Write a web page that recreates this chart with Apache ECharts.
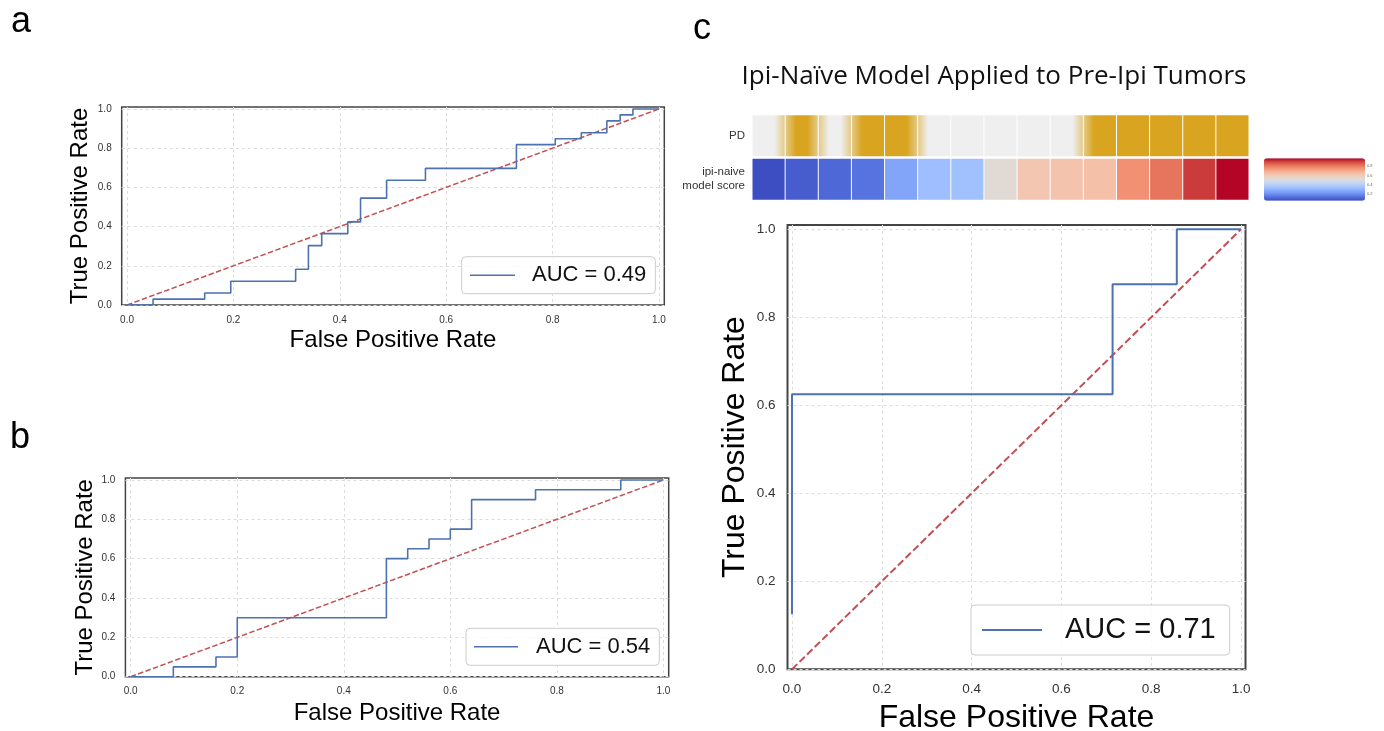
<!DOCTYPE html>
<html><head><meta charset="utf-8">
<script src="https://cdn.jsdelivr.net/npm/echarts@6/dist/echarts.min.js"></script>
<style>html,body{margin:0;padding:0;background:#fff}#c{width:1384px;height:731px}</style>
</head><body><div id="c"></div><script>
// ---------------- data ----------------
const tickValues = [0, 0.2, 0.4, 0.6, 0.8, 1.0];
const colorbarTicks = [0.2, 0.4, 0.6, 0.8];

const rocA_fpr = [0, 0.049, 0.146, 0.195, 0.317, 0.341, 0.366, 0.415, 0.439, 0.488, 0.561, 0.732, 0.805, 0.854, 0.902, 0.927, 0.951, 1.0];
const rocA_tpr = [0, 0.030, 0.061, 0.121, 0.182, 0.303, 0.364, 0.424, 0.545, 0.636, 0.697, 0.818, 0.848, 0.879, 0.939, 0.970, 1.0, 1.0];

const rocB_fpr = [0, 0.08, 0.16, 0.20, 0.48, 0.52, 0.56, 0.60, 0.64, 0.76, 0.92, 1.0];
const rocB_tpr = [0, 0.05, 0.10, 0.30, 0.60, 0.65, 0.70, 0.75, 0.90, 0.95, 1.0, 1.0];

const rocC_fpr = [0, 0, 0.714, 0.857, 1.0];
const rocC_tpr = [0.125, 0.625, 0.875, 1.0, 1.0];

const chanceX = [0, 1];
const chanceY = [0, 1];

const aucLabels = ['AUC = 0.49', 'AUC = 0.54', 'AUC = 0.71'];

const heatmapColumns = ['1','2','3','4','5','6','7','8','9','10','11','12','13','14','15'];
const heatmapRows = ['ipi-naive\nmodel score', 'PD'];
const pdStatus = [0, 1, 0, 1, 1, 0, 0, 0, 0, 0, 1, 1, 1, 1, 1];
const modelScores = [0.05, 0.083, 0.106, 0.13, 0.25, 0.325, 0.334, 0.53, 0.618, 0.627, 0.637, 0.762, 0.818, 0.911, 0.975];
const scoreRange = [0.046, 0.976];

const titleText = 'Ipi-Naïve Model Applied to Pre-Ipi Tumors';
const axisTitleX = 'False Positive Rate';
const axisTitleY = 'True Positive Rate';

// ---------------- styles ----------------
const BLUE = '#4c72b0', RED = '#c44e52';
const GOLD = '#d9a420', LIGHT = '#efefef';
const FONT = '"Liberation Sans", Arial, sans-serif';
const coolwarm = ['#3b4cc0','#5977e3','#7b9ff9','#9ebeff','#c0d4f5','#dddcdc','#f2cbb7','#f7ac8e','#ee8468','#d65244','#b40426'];

const zip = (xs, ys) => xs.map((x, i) => [x, ys[i]]);

function hexToRgb(h){h=h.replace('#','');return [parseInt(h.substr(0,2),16),parseInt(h.substr(2,2),16),parseInt(h.substr(4,2),16)];}
function mix(a,b){const A=hexToRgb(a),B=hexToRgb(b);return 'rgb('+A.map((v,i)=>Math.round((v+B[i])/2)).join(',')+')';}

function rocAxes(gi, o) {
  const x = {
    gridIndex: gi, type: 'value', min: -0.01, max: 1.01,
    axisLine: {show: false},
    axisTick: {show: false, customValues: tickValues},
    splitLine: {show: true, lineStyle: {color: '#dcdcdc', type: [3, 3], width: 1}},
    axisLabel: {customValues: tickValues, formatter: v => v.toFixed(1), fontSize: o.tick, color: '#333', margin: o.xm, fontFamily: FONT},
    name: axisTitleX, nameLocation: 'middle', nameGap: o.xg,
    nameTextStyle: {fontSize: o.title, color: '#000', fontFamily: FONT}
  };
  const y = {
    gridIndex: gi, type: 'value', min: 0, max: 1.01,
    axisLine: {show: false},
    axisTick: {show: false, customValues: tickValues},
    splitLine: {show: true, lineStyle: {color: '#dcdcdc', type: [3, 3], width: 1}},
    axisLabel: {customValues: tickValues, formatter: v => v.toFixed(1), fontSize: o.tick, color: '#333', margin: o.ym, fontFamily: FONT},
    name: axisTitleY, nameLocation: 'middle', nameGap: o.yg,
    nameTextStyle: {fontSize: o.title, color: '#000', fontFamily: FONT}
  };
  return [x, y];
}

const axA = rocAxes(0, {tick: 10, xm: 10, ym: 10, title: 24, xg: 23, yg: 29});
const axB = rocAxes(1, {tick: 10, xm: 10, ym: 10, title: 24, xg: 25, yg: 27});
const axC = rocAxes(2, {tick: 13.5, xm: 13, ym: 12, title: 32, xg: 33, yg: 36});

function legendFor(name, o) {
  return {
    data: [{name: name, icon: 'rect'}], left: o.left, top: o.top, orient: 'horizontal',
    padding: o.pad, itemWidth: o.iw, itemHeight: o.ih,
    borderColor: '#cccccc', borderWidth: 1, borderRadius: 4,
    backgroundColor: 'rgba(255,255,255,0.85)',
    itemStyle: {color: BLUE, borderWidth: 0},
    textStyle: {fontSize: o.fs, color: '#111', fontFamily: FONT, lineHeight: o.lh, padding: [0, 0, 0, o.gap]},
    selectedMode: false
  };
}

function rocSeries(name, gi, xs, ys, w) {
  return {
    name: name, type: 'line', xAxisIndex: gi, yAxisIndex: gi,
    data: zip(xs, ys), step: 'end', symbol: 'none', showSymbol: false, silent: true,
    lineStyle: {color: BLUE, width: w}, itemStyle: {color: BLUE}, z: 3
  };
}
function chanceSeries(gi, w, dash) {
  return {
    type: 'line', xAxisIndex: gi, yAxisIndex: gi, data: zip(chanceX, chanceY),
    symbol: 'none', silent: true, lineStyle: {color: RED, width: w, type: dash}, z: 2
  };
}

const pdData = pdStatus.map((v, i) => [i, 1, v]);
const scoreData = modelScores.map((v, i) => [i, 0, v]);

function renderPD(params, api) {
  const i = params.dataIndex;
  const c = api.coord([api.value(0), api.value(1)]);
  const s = api.size([1, 1]);
  const own = pdStatus[i] ? GOLD : LIGHT;
  const lc = (i > 0 && pdStatus[i-1] !== pdStatus[i]) ? mix(own, pdStatus[i-1] ? GOLD : LIGHT) : own;
  const rc = (i < pdStatus.length - 1 && pdStatus[i+1] !== pdStatus[i]) ? mix(own, pdStatus[i+1] ? GOLD : LIGHT) : own;
  return {
    type: 'rect',
    shape: {x: c[0] - s[0]/2 + 0.5, y: c[1] - s[1]/2 + 0.7, width: s[0] - 1, height: s[1] - 1.9},
    style: {fill: new echarts.graphic.LinearGradient(0, 0, 1, 0, [
      {offset: 0, color: lc}, {offset: 0.32, color: own}, {offset: 0.68, color: own}, {offset: 1, color: rc}
    ])}
  };
}
function renderScore(params, api) {
  const c = api.coord([api.value(0), api.value(1)]);
  const s = api.size([1, 1]);
  return {
    type: 'rect',
    shape: {x: c[0] - s[0]/2 + 0.5, y: c[1] - s[1]/2 + 1.2, width: s[0] - 1, height: s[1] - 1.9},
    style: {fill: api.visual('color')}
  };
}

const gridBase = {outerBoundsMode: 'none', containLabel: false};
const option = {
  backgroundColor: '#fff',
  animation: false,
  grid: [
    Object.assign({left: 121.7, top: 107, width: 542.6, height: 198, show: true, borderColor: '#444', borderWidth: 1.5, backgroundColor: 'transparent'}, gridBase),
    Object.assign({left: 125.4, top: 478, width: 543.3, height: 198.7, show: true, borderColor: '#444', borderWidth: 1.5, backgroundColor: 'transparent'}, gridBase),
    Object.assign({left: 787.5, top: 224.9, width: 458, height: 444.4, show: true, borderColor: '#444', borderWidth: 2, backgroundColor: 'transparent'}, gridBase),
    Object.assign({left: 752, top: 114.5, width: 497, height: 86}, gridBase),
    Object.assign({left: 1264, top: 158.3, width: 101, height: 42.4}, gridBase)
  ],
  xAxis: [axA[0], axB[0], axC[0],
    {gridIndex: 3, type: 'category', data: heatmapColumns, show: false},
    {gridIndex: 4, type: 'value', show: false, min: 0, max: 1}
  ],
  yAxis: [axA[1], axB[1], axC[1],
    {gridIndex: 3, type: 'category', data: heatmapRows, axisLine: {show: false}, axisTick: {show: false},
     splitLine: {show: false}, axisLabel: {fontSize: 11.5, lineHeight: 14, color: '#333', margin: 7, fontFamily: FONT}},
    {gridIndex: 4, type: 'value', position: 'right', min: scoreRange[0], max: scoreRange[1],
     axisLine: {show: false}, splitLine: {show: false},
     axisTick: {show: true, customValues: colorbarTicks, length: 2, lineStyle: {color: '#777', width: 0.5}},
     axisLabel: {customValues: colorbarTicks, formatter: v => v.toFixed(1), fontSize: 4, color: '#666', margin: 2, fontFamily: FONT}}
  ],
  visualMap: {
    type: 'continuous', min: scoreRange[0], max: scoreRange[1], seriesIndex: 7, dimension: 2,
    orient: 'vertical', left: 1264, top: 158.3, itemWidth: 101, itemHeight: 42.4, padding: 0,
    calculable: false, hoverLink: false, inRange: {color: coolwarm}, textStyle: {fontSize: 1, color: 'transparent'}
  },
  legend: [
    legendFor(aucLabels[0], {left: 461.7, top: 256.7, pad: [7.5, 9, 7.5, 8.3], iw: 45, ih: 1.6, fs: 22, lh: 22, gap: 12}),
    legendFor(aucLabels[1], {left: 466, top: 628.3, pad: [7.5, 9, 7.5, 8], iw: 44, ih: 1.6, fs: 22, lh: 22, gap: 13}),
    legendFor(aucLabels[2], {left: 971, top: 605, pad: [10, 14, 10, 11], iw: 60, ih: 2, fs: 29, lh: 30, gap: 18})
  ],
  series: [
    chanceSeries(0, 1.5, [5.5, 2.4]),
    rocSeries(aucLabels[0], 0, rocA_fpr, rocA_tpr, 1.6),
    chanceSeries(1, 1.5, [5.5, 2.4]),
    rocSeries(aucLabels[1], 1, rocB_fpr, rocB_tpr, 1.6),
    chanceSeries(2, 2, [7.4, 3.2]),
    rocSeries(aucLabels[2], 2, rocC_fpr, rocC_tpr, 2),
    {type: 'custom', xAxisIndex: 3, yAxisIndex: 3, data: pdData, renderItem: renderPD, silent: true, encode: {x: 0, y: 1}},
    {type: 'custom', xAxisIndex: 3, yAxisIndex: 3, data: scoreData, renderItem: renderScore, silent: true, encode: {x: 0, y: 1}}
  ],
  graphic: [
    {type: 'text', x: 11, y: 22, style: {text: 'a', font: '36px ' + FONT, fill: '#000', align: 'left', verticalAlign: 'middle'}},
    {type: 'text', x: 10, y: 438, style: {text: 'b', font: '36px ' + FONT, fill: '#000', align: 'left', verticalAlign: 'middle'}},
    {type: 'text', x: 693, y: 29, style: {text: 'c', font: '36px ' + FONT, fill: '#000', align: 'left', verticalAlign: 'middle'}},
    {type: 'text', x: 994, y: 77, style: {text: titleText, font: '26px "Open Sans", sans-serif', fill: '#111', align: 'center', verticalAlign: 'middle'}}
  ]
};

const chart = echarts.init(document.getElementById('c'), null, {renderer: 'canvas'});
chart.setOption(option);
</script></body></html>
